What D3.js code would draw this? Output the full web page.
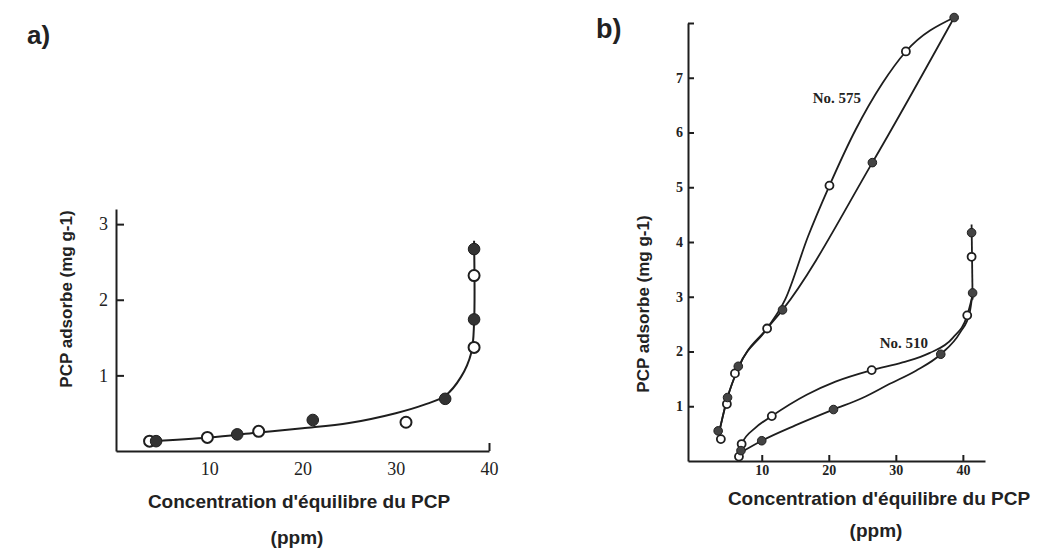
<!DOCTYPE html>
<html>
<head>
<meta charset="utf-8">
<script src="https://cdn.jsdelivr.net/npm/d3@7"></script>
<style>
  body { margin: 0; background: #fff; }
  .axis path, .axis line { stroke: #1e1e1e; stroke-width: 2; }
  .ttl { font-family: 'Liberation Sans', Arial, sans-serif; font-weight: bold; fill: #222; }
</style>
</head>
<body>
<script>
// ---- panel a) data
const aOpenX = [3.6, 9.8, 15.3, 31.1, 38.4, 38.4]
const aOpenY = [0.13, 0.18, 0.26, 0.38, 1.37, 2.32]
const aFilledX = [4.3, 13.0, 21.1, 35.3, 38.4, 38.4]
const aFilledY = [0.13, 0.22, 0.41, 0.69, 1.74, 2.67]
const aCurveX = [3.6, 10, 15, 20, 25, 30, 33, 35.3, 37, 38.1, 38.4, 38.4]
const aCurveY = [0.13, 0.18, 0.24, 0.30, 0.37, 0.50, 0.61, 0.73, 0.98, 1.3, 1.7, 2.78]
const aTicksX = [10, 20, 30, 40]
const aTicksY = [1, 2, 3]

// ---- panel b) data
const b575OpenX = [3.9, 4.8, 6.0, 10.8, 20.1, 31.5]
const b575OpenY = [0.40, 1.04, 1.60, 2.42, 5.03, 7.48]
const b575FilledX = [3.5, 4.9, 6.5, 13.1, 26.5, 38.7]
const b575FilledY = [0.55, 1.16, 1.73, 2.76, 5.45, 8.1]
const c575UpX = [3.6, 4.9, 6.5, 10.8, 13.5, 16.9, 20.1, 24, 28, 31.5, 38.7]
const c575UpY = [0.50, 1.16, 1.70, 2.42, 2.95, 4.1, 5.03, 6.05, 6.9, 7.48, 8.1]
const c575LowX = [3.6, 4.9, 6.5, 10.8, 13.1, 26.5, 38.7]
const c575LowY = [0.50, 1.16, 1.70, 2.42, 2.76, 5.45, 8.1]

const b510OpenX = [6.6, 7.0, 11.5, 26.4, 40.65, 41.3]
const b510OpenY = [0.08, 0.31, 0.82, 1.66, 2.66, 3.73]
const b510FilledX = [6.9, 10.0, 20.7, 36.7, 41.45, 41.3]
const b510FilledY = [0.19, 0.37, 0.94, 1.95, 3.07, 4.17]
const c510UpX = [6.8, 7.0, 9, 11.5, 16.7, 21, 26.4, 31, 35, 38.5, 40.65, 41.4]
const c510UpY = [0.15, 0.31, 0.6, 0.82, 1.21, 1.45, 1.66, 1.8, 1.97, 2.25, 2.66, 3.0]
const c510LowX = [6.8, 10.0, 15, 20.7, 25, 29.1, 33, 36.7, 39.6, 41.0, 41.45]
const c510LowY = [0.15, 0.37, 0.65, 0.94, 1.15, 1.41, 1.65, 1.95, 2.35, 2.7, 3.07]
// vertical end of No. 510
const c510VertX = [41.45, 41.3]
const c510VertY = [2.95, 4.32]
const bTicksX = [10, 20, 30, 40]
const bTicksY = [1, 2, 3, 4, 5, 6, 7, 8]

const zip = (xs, ys) => xs.map((x, i) => [x, ys[i]])

const svg = d3.select('body').append('svg').attr('width', 1049).attr('height', 549)

// ================= a)
const xA = d3.scaleLinear().domain([0, 40]).range([116, 489])
const yA = d3.scaleLinear().domain([0, 3.2]).range([451, 209])

const gxA = svg.append('g')
    .attr('class', 'axis')
    .attr('transform', 'translate(0,451)')
    .call(d3.axisBottom(xA).tickValues(aTicksX).tickSize(0).tickSizeOuter(0).tickPadding(11))
gxA.selectAll('.tick line').attr('y2', function(d) { return d === 40 ? -8 : 0 })
gxA.selectAll('text')
    .attr('font-family', 'Liberation Serif, serif')
    .attr('font-size', '18')
    .attr('fill', '#222')

const gyA = svg.append('g')
    .attr('class', 'axis')
    .attr('transform', 'translate(116,0)')
    .call(d3.axisLeft(yA).tickValues(aTicksY).tickFormat(d3.format('d'))
        .tickSizeInner(-8).tickSizeOuter(0).tickPadding(8))
gyA.selectAll('text')
    .attr('font-family', 'Liberation Serif, serif')
    .attr('font-size', '18')
    .attr('fill', '#222')

const lineA = d3.line()
    .x(function(d) { return xA(d[0]) })
    .y(function(d) { return yA(d[1]) })
    .curve(d3.curveCatmullRom.alpha(0.5))

svg.append('path')
    .attr('d', lineA(zip(aCurveX, aCurveY)))
    .attr('fill', 'none')
    .attr('stroke', '#1e1e1e')
    .attr('stroke-width', 2)

svg.selectAll('circle.aOpen')
    .data(zip(aOpenX, aOpenY))
    .enter().append('circle')
        .attr('class', 'aOpen')
        .attr('cx', function(d) { return xA(d[0]) })
        .attr('cy', function(d) { return yA(d[1]) })
        .attr('r', 5.5)
        .attr('fill', '#fff')
        .attr('stroke', '#1e1e1e')
        .attr('stroke-width', 2)

svg.selectAll('circle.aFilled')
    .data(zip(aFilledX, aFilledY))
    .enter().append('circle')
        .attr('class', 'aFilled')
        .attr('cx', function(d) { return xA(d[0]) })
        .attr('cy', function(d) { return yA(d[1]) })
        .attr('r', 5.8)
        .attr('fill', '#333')
        .attr('stroke', '#1e1e1e')
        .attr('stroke-width', 1)

svg.append('text')
    .attr('x', 27).attr('y', 44)
    .attr('font-family', 'Liberation Sans, Arial, sans-serif')
    .attr('font-weight', 'bold')
    .attr('font-size', '26')
    .attr('fill', '#222')
    .text('a)')

svg.append('text')
    .attr('class', 'ttl')
    .attr('font-size', '17')
    .attr('text-anchor', 'middle')
    .attr('transform', 'translate(72,299) rotate(-90)')
    .text('PCP adsorbe (mg g-1)')
svg.append('text')
    .attr('class', 'ttl')
    .attr('font-size', '19')
    .attr('text-anchor', 'middle')
    .attr('x', 299).attr('y', 508)
    .text("Concentration d'équilibre du PCP")
svg.append('text')
    .attr('class', 'ttl')
    .attr('font-size', '19')
    .attr('text-anchor', 'middle')
    .attr('x', 297).attr('y', 544)
    .text('(ppm)')

// ================= b)
const xB = d3.scaleLinear().domain([-1, 43.3]).range([688, 985])
const yB = d3.scaleLinear().domain([0, 8]).range([461, 23])

const gxB = svg.append('g')
    .attr('class', 'axis')
    .attr('transform', 'translate(0,461)')
    .call(d3.axisBottom(xB).tickValues(bTicksX).tickSizeInner(-6).tickSizeOuter(0).tickPadding(4))
gxB.selectAll('text')
    .attr('font-family', 'Liberation Serif, serif')
    .attr('font-weight', 'bold')
    .attr('font-size', '14')
    .attr('fill', '#222')

const gyB = svg.append('g')
    .attr('class', 'axis')
    .attr('transform', 'translate(688,0)')
    .call(d3.axisLeft(yB).tickValues(bTicksY).tickSizeInner(-6).tickSizeOuter(0).tickPadding(5)
        .tickFormat(function(d) { return d === 8 ? '' : d }))
gyB.selectAll('text')
    .attr('font-family', 'Liberation Serif, serif')
    .attr('font-weight', 'bold')
    .attr('font-size', '14')
    .attr('fill', '#222')

const lineB = d3.line()
    .x(function(d) { return xB(d[0]) })
    .y(function(d) { return yB(d[1]) })
    .curve(d3.curveMonotoneX)

const curvesB = [zip(c575UpX, c575UpY), zip(c575LowX, c575LowY), zip(c510UpX, c510UpY), zip(c510LowX, c510LowY)]
svg.selectAll('path.curveB')
    .data(curvesB)
    .enter().append('path')
        .attr('class', 'curveB')
        .attr('d', function(d) { return lineB(d) })
        .attr('fill', 'none')
        .attr('stroke', '#1e1e1e')
        .attr('stroke-width', 1.8)

svg.append('path')
    .attr('d', d3.line().x(function(d) { return xB(d[0]) }).y(function(d) { return yB(d[1]) })(zip(c510VertX, c510VertY)))
    .attr('fill', 'none')
    .attr('stroke', '#1e1e1e')
    .attr('stroke-width', 1.8)

const openB = zip(b575OpenX, b575OpenY).concat(zip(b510OpenX, b510OpenY))
const filledB = zip(b575FilledX, b575FilledY).concat(zip(b510FilledX, b510FilledY))

svg.selectAll('circle.bOpen')
    .data(openB)
    .enter().append('circle')
        .attr('class', 'bOpen')
        .attr('cx', function(d) { return xB(d[0]) })
        .attr('cy', function(d) { return yB(d[1]) })
        .attr('r', 4)
        .attr('fill', '#fff')
        .attr('stroke', '#1e1e1e')
        .attr('stroke-width', 1.8)

svg.selectAll('circle.bFilled')
    .data(filledB)
    .enter().append('circle')
        .attr('class', 'bFilled')
        .attr('cx', function(d) { return xB(d[0]) })
        .attr('cy', function(d) { return yB(d[1]) })
        .attr('r', 4.3)
        .attr('fill', '#444')
        .attr('stroke', '#1e1e1e')
        .attr('stroke-width', 1)

const seriesLabels = [{ t: 'No. 575', x: 17.6, y: 6.54 }, { t: 'No. 510', x: 27.6, y: 2.06 }]
svg.selectAll('text.serie')
    .data(seriesLabels)
    .enter().append('text')
        .attr('class', 'serie')
        .attr('x', function(d) { return xB(d.x) })
        .attr('y', function(d) { return yB(d.y) })
        .attr('font-family', 'Liberation Serif, serif')
        .attr('font-weight', 'bold')
        .attr('font-size', '15')
        .attr('fill', '#222')
        .text(function(d) { return d.t })

svg.append('text')
    .attr('x', 596).attr('y', 38)
    .attr('font-family', 'Liberation Sans, Arial, sans-serif')
    .attr('font-weight', 'bold')
    .attr('font-size', '27')
    .attr('fill', '#222')
    .text('b)')

svg.append('text')
    .attr('class', 'ttl')
    .attr('font-size', '17')
    .attr('text-anchor', 'middle')
    .attr('transform', 'translate(649,304) rotate(-90)')
    .text('PCP adsorbe (mg g-1)')
svg.append('text')
    .attr('class', 'ttl')
    .attr('font-size', '19')
    .attr('text-anchor', 'middle')
    .attr('x', 879).attr('y', 505)
    .text("Concentration d'équilibre du PCP")
svg.append('text')
    .attr('class', 'ttl')
    .attr('font-size', '19')
    .attr('text-anchor', 'middle')
    .attr('x', 876).attr('y', 537)
    .text('(ppm)')
</script>
</body>
</html>
